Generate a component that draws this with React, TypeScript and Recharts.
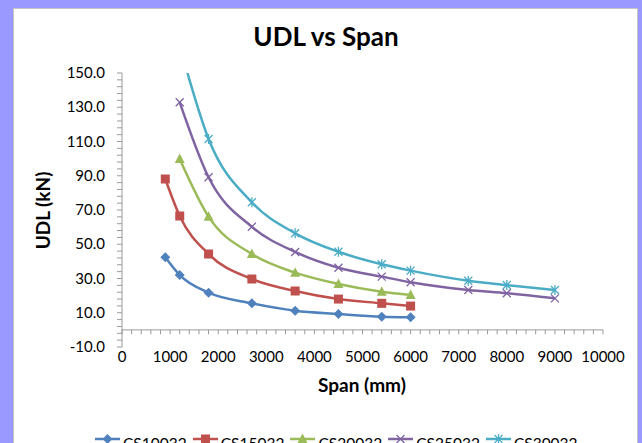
import React from 'react';
import { LineChart, Line, XAxis, YAxis, ReferenceLine } from 'recharts';

// spans (mm) for each group of series
const spanShort = [900, 1200, 1800, 2700, 3600, 4500, 5400, 6000];
const spanMid = [1200, 1800, 2700, 3600, 4500, 5400, 6000];
const spanLong = [1200, 1800, 2700, 3600, 4500, 5400, 6000, 7200, 8000, 9000];

// UDL values (kN)
const cs10032 = [42.4, 32.0, 21.7, 15.5, 11.2, 9.3, 7.7, 7.3];
const cs15032 = [88.1, 66.5, 44.3, 29.7, 22.7, 18.0, 15.5, 13.9];
const cs20032 = [99.8, 66.1, 44.3, 33.4, 26.8, 22.3, 20.4];
const cs25032 = [132.9, 89.1, 60.2, 45.5, 36.3, 31.1, 27.8, 23.3, 21.4, 18.4];
const cs30032 = [166, 111.5, 74.5, 56.4, 45.6, 38.3, 34.6, 28.7, 26.2, 23.3];

// axis ticks (minor steps, labels drawn on the majors)
const xTicks = Array.from({ length: 51 }, (_, i) => i * 200);
const yTicks = Array.from({ length: 41 }, (_, i) => -10 + i * 4);

type Kind = 'diamond' | 'square' | 'triangle' | 'x' | 'star';

const zip = (xs: number[], ys: number[]) => xs.map((span, i) => ({ span, udl: ys[i] }));

const series: { name: string; color: string; kind: Kind; data: { span: number; udl: number }[] }[] = [
  { name: 'CS10032', color: '#4F81BD', kind: 'diamond', data: zip(spanShort, cs10032) },
  { name: 'CS15032', color: '#C0504D', kind: 'square', data: zip(spanShort, cs15032) },
  { name: 'CS20032', color: '#9BBB59', kind: 'triangle', data: zip(spanMid, cs20032) },
  { name: 'CS25032', color: '#8064A2', kind: 'x', data: zip(spanLong, cs25032) },
  { name: 'CS30032', color: '#4BACC6', kind: 'star', data: zip(spanLong, cs30032) },
];

const FONT = 'Lato, "Open Sans", sans-serif';
const AXIS = '#9a9a9a';

function Marker({ cx, cy, color, kind }: { cx: number; cy: number; color: string; kind: Kind }) {
  if (kind === 'diamond')
    return <polygon points={`${cx},${cy - 5} ${cx + 5},${cy} ${cx},${cy + 5} ${cx - 5},${cy}`} fill={color} />;
  if (kind === 'square') return <rect x={cx - 4.5} y={cy - 4.5} width={9} height={9} fill={color} />;
  if (kind === 'triangle')
    return <polygon points={`${cx},${cy - 5.5} ${cx + 5},${cy + 4} ${cx - 5},${cy + 4}`} fill={color} />;
  const s = 4;
  return (
    <g stroke={color} strokeWidth={1.3}>
      <line x1={cx - s} y1={cy - s} x2={cx + s} y2={cy + s} />
      <line x1={cx - s} y1={cy + s} x2={cx + s} y2={cy - s} />
      {kind === 'star' && <line x1={cx} y1={cy - s - 1} x2={cx} y2={cy + s + 1} />}
    </g>
  );
}

const XTick = (props: any) => {
  const { x, y, payload } = props;
  if (payload.value % 1000 !== 0) return <g />;
  return (
    <text x={x} y={y} dy={7} textAnchor="middle" fontSize={15} fontFamily={FONT} fill="#000">
      {payload.value}
    </text>
  );
};

const YTick = (props: any) => {
  const { x, y, payload } = props;
  if ((payload.value + 10) % 20 !== 0) return <g />;
  return (
    <text x={x} y={y} dy={5} textAnchor="end" fontSize={15} fontFamily={FONT} fill="#000">
      {payload.value.toFixed(1)}
    </text>
  );
};

export default function App() {
  return (
    <div style={{ position: 'fixed', left: 0, top: 0, width: 642, height: 443, background: '#9999FF', overflow: 'hidden' }}>
      <div
        style={{
          position: 'absolute',
          left: 13,
          top: 8,
          width: 623,
          height: 470,
          background: '#fff',
          border: '1px solid #c4c4c4',
        }}
      />
      <div
        style={{
          position: 'absolute',
          left: 0,
          width: 652,
          top: 23,
          textAlign: 'center',
          font: `bold 26px/26px ${FONT}`,
          color: '#000',
        }}
      >
        UDL vs Span
      </div>
      <div
        style={{
          position: 'absolute',
          left: 262,
          width: 200,
          top: 375,
          textAlign: 'center',
          font: `bold 19px/19px ${FONT}`,
          color: '#000',
        }}
      >
        Span (mm)
      </div>
      <div
        style={{
          position: 'absolute',
          left: 42 - 100,
          top: 210 - 9,
          width: 200,
          textAlign: 'center',
          transform: 'rotate(-90deg)',
          font: `bold 19px/19px ${FONT}`,
          color: '#000',
        }}
      >
        UDL (kN)
      </div>
      <div style={{ position: 'absolute', left: 0, top: 0 }}>
        <LineChart width={642} height={443} margin={{ top: 73, right: 39, bottom: 0, left: 0 }}>
          <XAxis
            dataKey="span"
            type="number"
            domain={[0, 10000]}
            ticks={xTicks}
            interval={0}
            axisLine={false}
            tickLine={false}
            tickSize={6}
            tickMargin={2}
            height={96}
            tick={<XTick />}
            allowDuplicatedCategory={false}
          />
          <YAxis
            type="number"
            domain={[-10, 150]}
            ticks={yTicks}
            interval={0}
            allowDataOverflow
            width={122}
            tickSize={5}
            tickMargin={12}
            axisLine={{ stroke: AXIS }}
            tickLine={{ stroke: AXIS }}
            tick={<YTick />}
          />
          <ReferenceLine y={0} stroke={AXIS} />
          {xTicks.map((v) => (
            <ReferenceLine
              key={v}
              segment={[
                { x: v, y: 0 },
                { x: v, y: -2.6 },
              ]}
              stroke={AXIS}
            />
          ))}
          {series.map((s) => (
            <Line
              key={s.name}
              data={s.data}
              dataKey="udl"
              name={s.name}
              type="monotone"
              stroke={s.color}
              strokeWidth={2.5}
              isAnimationActive={false}
              dot={(p: any) => <Marker key={p.index} cx={p.cx} cy={p.cy} color={s.color} kind={s.kind} />}
              activeDot={false}
            />
          ))}
        </LineChart>
      </div>
      <div style={{ position: 'absolute', left: 95, top: 429, display: 'flex', alignItems: 'center' }}>
        {series.map((s) => (
          <div key={s.name} style={{ display: 'flex', alignItems: 'center', marginRight: 6 }}>
            <svg width={25} height={20}>
              <line x1={0} y1={10} x2={25} y2={10} stroke={s.color} strokeWidth={2.5} />
              <Marker cx={12.5} cy={10} color={s.color} kind={s.kind} />
            </svg>
            <span style={{ font: `15.5px/20px ${FONT}`, color: '#000', marginLeft: 3, position: 'relative', top: 4 }}>
              {s.name}
            </span>
          </div>
        ))}
      </div>
    </div>
  );
}
